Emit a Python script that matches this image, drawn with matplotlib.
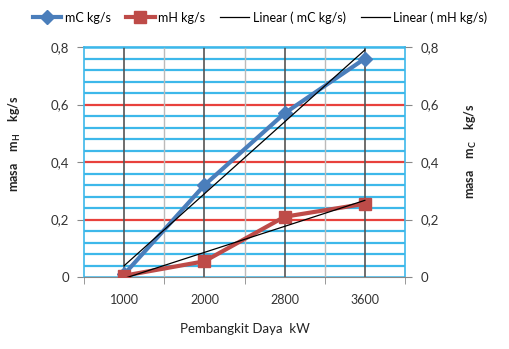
import numpy as np
import matplotlib
matplotlib.use("Agg")
import matplotlib.pyplot as plt
from matplotlib.ticker import FuncFormatter, MultipleLocator

plt.rcParams['font.family'] = ['Lato', 'DejaVu Sans']

# data
daya = ['1000', '2000', '2800', '3600']
m_c = [0.01, 0.32, 0.57, 0.76]
m_h = [0.005, 0.055, 0.21, 0.255]

x = np.arange(len(daya))

fig = plt.figure(figsize=(5.10, 3.49), dpi=100)
ax = fig.add_axes([0.165, 0.206, 0.629, 0.659])

# grid horizontal
for v in np.arange(0.04, 0.8, 0.04):
    col = '#E8413C' if abs(round(v / 0.2) * 0.2 - v) < 1e-6 else '#3DB8EA'
    ax.axhline(v, color=col, lw=1.6, zorder=1)
ax.axhline(0, color='#3DB8EA', lw=1.8, zorder=1)
ax.axhline(0.8, color='#3DB8EA', lw=1.8, zorder=1)

# grid vertical
for i in x:
    ax.axvline(i, color='#555555', lw=1.2, zorder=1)
for i in x[1:] - 0.5:
    ax.axvline(i, color='#BBBBBB', lw=1.0, zorder=1)

# trendlines
tr_c = np.polyval(np.polyfit(x, m_c, 1), x)
tr_h = np.polyval(np.polyfit(x, m_h, 1), x)

ax.plot(x, m_c, color='#4A7EBB', lw=3, marker='D', ms=7, zorder=3, label='mC kg/s')
ax.plot(x, m_h, color='#BE4B48', lw=3, marker='s', ms=9, zorder=3, label='mH kg/s')
ax.plot(x, tr_c, color='black', lw=0.9, zorder=4, label='Linear ( mC kg/s)')
ax.plot(x, tr_h, color='black', lw=0.9, zorder=4, label='Linear ( mH kg/s)')

ax.set_xlim(-0.5, 3.5)
ax.set_ylim(0, 0.8)
ax.set_xticks(x)
ax.set_xticklabels(daya)
ax.set_xticks(np.arange(-0.5, 3.6, 1), minor=True)
ax.tick_params(axis='x', which='major', length=0, labelsize=9, colors='#333333', pad=12)
ax.tick_params(axis='x', which='minor', length=5, color='#888888')

fmt = FuncFormatter(lambda v, p: ('%g' % round(v, 1)).replace('.', ','))
ax.yaxis.set_major_locator(MultipleLocator(0.2))
ax.yaxis.set_major_formatter(fmt)
ax.tick_params(axis='y', length=5, color='#888888', labelsize=9.5, colors='#333333', pad=6)

for s in ['left', 'right', 'top']:
    ax.spines[s].set_color('#3DB8EA')
    ax.spines[s].set_linewidth(1.2)
ax.spines['bottom'].set_color('#888888')

ax2 = ax.twinx()
ax2.set_ylim(0, 0.8)
ax2.yaxis.set_major_locator(MultipleLocator(0.2))
ax2.yaxis.set_major_formatter(fmt)
ax2.tick_params(axis='y', length=5, color='#888888', labelsize=9.5, colors='#333333', pad=6)
for s in ax2.spines.values():
    s.set_visible(False)

ax.set_xlabel('Pembangkit Daya  kW', fontsize=9.5, color='#222222')
ax.xaxis.set_label_coords(0.5, -0.20)
ax.set_ylabel(r'masa    m$_\mathregular{H}$    kg/s', fontsize=9, fontweight='bold', color='#222222')
ax.yaxis.set_label_coords(-0.19, 0.58)
ax2.set_ylabel(r'masa    m$_\mathregular{C}$    kg/s', fontsize=9, fontweight='bold', color='#222222',
               rotation=90)
ax2.yaxis.set_label_coords(1.18, 0.55)

fig.legend(loc='upper center', bbox_to_anchor=(0.51, 1.0), ncol=4, frameon=False,
           fontsize=9, handlelength=2.3, handletextpad=0.3, columnspacing=1.2)

fig.savefig('out.png', dpi=100)
